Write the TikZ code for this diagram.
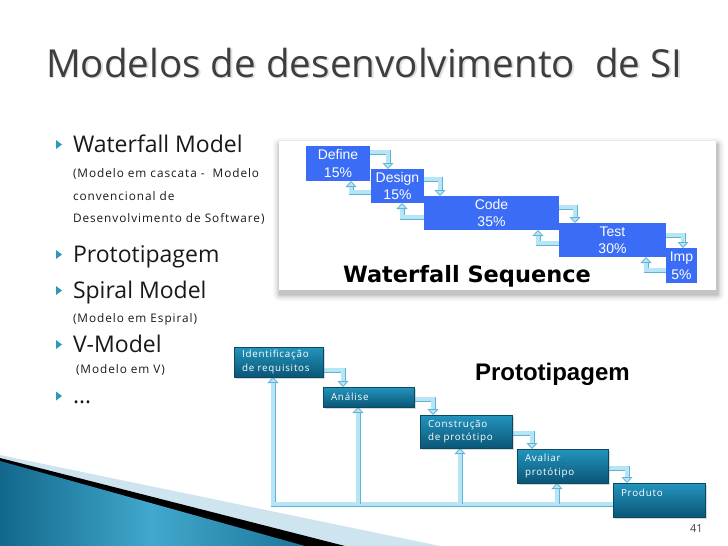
\documentclass[tikz,border=0pt]{standalone}
\usepackage{fontspec}
\setmainfont{Open Sans}
\newfontfamily\spaced[LetterSpace=8]{Open Sans}
\newfontfamily\arialf{Liberation Sans}
\newfontfamily\verdb{DejaVu Sans}
\usetikzlibrary{arrows.meta,calc,shadows}
\definecolor{wblue}{RGB}{58,108,245}
\definecolor{arrfill}{RGB}{182,230,246}
\definecolor{arredge}{RGB}{96,178,214}
\definecolor{ptop}{RGB}{36,148,190}
\definecolor{pbot}{RGB}{10,86,118}
\definecolor{bullteal}{RGB}{42,154,184}
\definecolor{titlegray}{RGB}{62,62,62}
\definecolor{swdark}{RGB}{18,104,140}
\definecolor{swlight}{RGB}{66,168,205}
\definecolor{swband}{RGB}{206,228,238}
\pgfdeclarelayer{back}
\pgfdeclarelayer{mid}
\pgfsetlayers{back,mid,main}
\tikzset{
  txt/.style={inner sep=0pt, outer sep=0pt, anchor=base west},
  bigtxt/.style={txt, font=\fontsize{23}{23}\selectfont, text=black!90},
  smalltxt/.style={txt, font=\spaced\fontsize{11.8}{11.8}\selectfont, text=black!90},
  wbox/.style={fill=wblue, draw=none, anchor=north west, inner sep=0pt, outer sep=0pt,
    text=white, align=center, font=\arialf\fontsize{14}{17.5}\selectfont},
  pbox/.style={top color=ptop, bottom color=pbot, draw=pbot!85!black, line width=0.5pt,
    anchor=north west, inner xsep=8pt, inner ysep=0pt, outer sep=0pt, text=white,
    align=left, font=\spaced\fontsize{9.8}{13.5}\selectfont,
    drop shadow={shadow xshift=1.5pt, shadow yshift=-2pt, opacity=0.3}},
  flow/.style={draw=arredge, line width=5pt,
    -{Triangle[width=11pt,length=6pt,line width=0.8pt,fill=arrfill,color=arredge]},
    postaction={draw=arrfill, line width=3.2pt, -, shorten >=6pt}},
}
\begin{document}
\begin{tikzpicture}[x=1pt,y=-1pt]
\useasboundingbox (0,0) rectangle (728,546);

% ---------- background layer: swoosh and panel
\begin{pgfonlayer}{back}
\fill[white] (0,0) rectangle (728,546);
\fill[swband] (0,455) -- (440,546) -- (0,546) -- cycle;
\fill[black] (0,458) -- (345,546) -- (0,546) -- cycle;
\shade[left color=swdark, right color=swdark!80!swlight, middle color=swlight]
  (0,461) -- (305,546) -- (0,546) -- cycle;
\foreach \d/\op in {7/0.035,5/0.05,3/0.07,1.5/0.09}{
  \fill[black,opacity=\op,rounded corners=\d pt] ({279-\d+1},{141-\d+4}) rectangle ({716+\d+1},{290+\d+4});
}
\fill[white] (279,141) rectangle (716,290);
\end{pgfonlayer}

% ---------- title
\node[txt, font=\fontsize{38.6}{38.6}\selectfont, text=black, opacity=0.13] (titlesh) at (47.5,78.5) {Modelos de desenvolvimento\ \ de SI};
\node[txt, font=\fontsize{38.6}{38.6}\selectfont, text=titlegray] (title) at (46,77) {Modelos de desenvolvimento\ \ de SI};

% ---------- bullets
\foreach \c in {144.5,254.5,290.5,344.5,396}{
  \fill[bullteal] (56,{\c-4.5}) -- (62,\c) -- (56,{\c+4.5}) -- cycle;
}
\node[bigtxt] (b1) at (73,152) {Waterfall Model};
\node[smalltxt] (b1a) at (73,177) {(Modelo em cascata -\ \ Modelo};
\node[smalltxt] (b1b) at (73,200) {convencional de};
\node[smalltxt] (b1c) at (73,222) {Desenvolvimento de Software)};
\node[bigtxt] (b2) at (73,262) {Prototipagem};
\node[bigtxt] (b3) at (73,298) {Spiral Model};
\node[smalltxt] (b3a) at (73,322) {(Modelo em Espiral)};
\node[bigtxt] (b4) at (73,352) {V-Model};
\node[smalltxt] (b4a) at (76,373) {(Modelo em V)};
\node[bigtxt] (b5) at (73,403) {…};

% ---------- waterfall boxes
\node[wbox, minimum width=64pt, minimum height=35pt] (def) at (306,146) {Define\\15\%};
\node[wbox, minimum width=53pt, minimum height=34pt] (des) at (371,169) {Design\\15\%};
\node[wbox, minimum width=135pt, minimum height=34pt] (code) at (424,196) {Code\\35\%};
\node[wbox, minimum width=107pt, minimum height=34pt] (test) at (559,223) {Test\\30\%};
\node[wbox, minimum width=31pt, minimum height=35pt] (imp) at (666,248) {Imp\\5\%};
\node[txt, font=\verdb\bfseries\fontsize{22.5}{22.5}\selectfont, text=black] (wseq) at (343,282) {Waterfall Sequence};

\begin{pgfonlayer}{mid}
\draw[flow] ($(def.north east)+(0,6)$) -| ($(des.north west)+(17,0)$);
\draw[flow] ($(des.north west)+(0,23)$) -| ($(def.south west)+(45,0)$);
\draw[flow] ($(des.north east)+(0,10)$) -| ($(code.north west)+(16,0)$);
\draw[flow] ($(code.north west)+(0,21)$) -| ($(des.south west)+(31,0)$);
\draw[flow] ($(code.north east)+(0,11)$) -| ($(test.north west)+(16,0)$);
\draw[flow] ($(test.north west)+(0,20)$) -| ($(code.south west)+(114,0)$);
\draw[flow] ($(test.north east)+(0,12)$) -| ($(imp.north west)+(17,0)$);
\draw[flow] ($(imp.north west)+(0,22)$) -| ($(test.south west)+(87,0)$);
\end{pgfonlayer}

% ---------- prototyping diagram
\node[pbox, text width=73pt, minimum height=30pt] (ident) at (234,347) {Identificação\\de requisitos};
\node[pbox, text width=75pt, minimum height=20pt] (anal) at (323,387) {Análise};
\node[pbox, text width=76pt, minimum height=33pt] (cons) at (420,415) {Construção\\de protótipo};
\node[pbox, text width=75pt, minimum height=34pt] (aval) at (517,449) {Avaliar\\protótipo};
\node[pbox, text width=76pt, minimum height=34pt] (prod) at (613,483) {Produto\\\mbox{}};
\node[txt, font=\arialf\bfseries\fontsize{24}{24}\selectfont, text=black] (ptitle) at (475,380) {Prototipagem};
\node[txt, font=\fontsize{11}{11}\selectfont, text=black!75] (pnum) at (690,532) {41};

\coordinate (fbL) at (273,504);
\coordinate (fb2) at (358,504);
\coordinate (fb3) at (460,504);
\coordinate (fb4) at (557,504);

\begin{pgfonlayer}{mid}
\draw[flow] ($(ident.north east)+(0,23)$) -| ($(anal.north west)+(20,0)$);
\draw[flow] ($(anal.north east)+(0,12)$) -| ($(cons.north west)+(13,0)$);
\draw[flow] ($(cons.north east)+(0,18)$) -| ($(aval.north west)+(15,0)$);
\draw[flow] ($(aval.north east)+(0,19)$) -| ($(prod.north west)+(14,0)$);
\draw[flow] ($(prod.north west)+(0,21)$) -- (fbL) -- (fbL |- ident.south);
\draw[flow] (fb2) -- (fb2 |- anal.south);
\draw[flow] (fb3) -- (fb3 |- cons.south);
\draw[flow] (fb4) -- (fb4 |- aval.south);
\end{pgfonlayer}
\end{tikzpicture}
\end{document}
